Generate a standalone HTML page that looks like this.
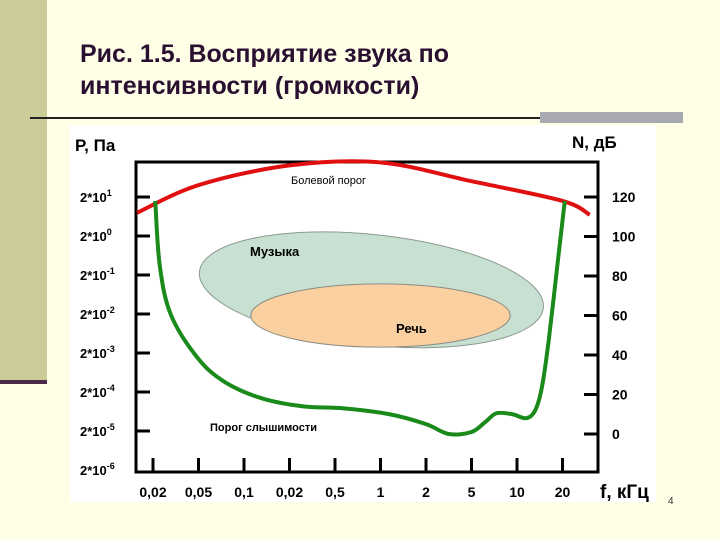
<!DOCTYPE html>
<html><head><meta charset="utf-8"><style>
body{margin:0;width:720px;height:540px;background:#FFFFE8;position:relative;overflow:hidden;font-family:"Liberation Sans","Noto Sans CJK SC",sans-serif}
.strip{position:absolute;left:0;top:0;width:47px;height:382px;background:#CCCC99}
.stripline{position:absolute;left:0;top:380px;width:47px;height:4px;background:#4a2a4a}
.hline{position:absolute;left:30px;top:117px;width:515px;height:2px;background:#222}
.grey{position:absolute;left:540px;top:112px;width:143px;height:11px;background:#A8A8B0}
h1{position:absolute;left:80px;top:38px;margin:0;font-size:25px;font-weight:bold;color:#2a1030;line-height:32px}
.page{position:absolute;left:668px;top:496px;font-size:10px;color:#333}
</style></head><body>
<div class="strip"></div>
<div class="stripline"></div>
<div class="hline"></div>
<div class="grey"></div>
<h1>Рис. 1.5. Восприятие звука по<br>интенсивности (громкости)</h1>
<svg id="c" width="720" height="540" style="position:absolute;left:0;top:0"></svg>
<div class="page">4</div>
<script>
const xLabels=["0,02","0,05","0,1","0,02","0,5","1","2","5","10","20"];
const leftLabels=["2*10|1","2*10|0","2*10|-1","2*10|-2","2*10|-3","2*10|-4","2*10|-5","2*10|-6"];
const rightLabels=[120,100,80,60,40,20,0];
const hearIdx=[0.05,0.15,0.4,1,1.6,2.4,3.3,4.2,5.2,6,6.5,7,7.3,7.55,7.9,8.2,8.4,8.55,8.7,8.9,9.05];
const hearDb=[118,85,60,38,26,18,14,13,10,5,0,1,6,10.5,10,8,12,24,48,88,118];
const painIdx=[-0.35,1,3,5,7,9,9.6];
const painDb=[112,126,136,137.5,128,118,111];
const music={idx:4.8,db:73,rIdx:3.8,rDb:28};
const speech={idx:5.0,db:60,rIdx:2.85,rDb:16};
const X=i=>153+45.5*i, Y=d=>434-1.975*d;
const S=document.getElementById('c'),NS="http://www.w3.org/2000/svg";
function mk(t,a,p){const e=document.createElementNS(NS,t);for(const k in a)e.setAttribute(k,a[k]);(p||S).appendChild(e);return e;}
function smooth(xs,ys){const P=xs.map((x,i)=>[X(x),Y(ys[i])]);let d=`M${P[0][0]},${P[0][1]}`;for(let i=0;i<P.length-1;i++){const p0=P[i-1]||P[i],p1=P[i],p2=P[i+1],p3=P[i+2]||p2;d+=` C${p1[0]+(p2[0]-p0[0])/6},${p1[1]+(p2[1]-p0[1])/6} ${p2[0]-(p3[0]-p1[0])/6},${p2[1]-(p3[1]-p1[1])/6} ${p2[0]},${p2[1]}`;}return d;}
let e=mk('rect',{x:70,y:125,width:586,height:377,fill:'#fff'});


e=mk('rect',{x:136,y:162,width:462,height:310,fill:'none',stroke:'#000','stroke-width':3});


e=mk('ellipse',{cx:X(music.idx),cy:Y(music.db),rx:music.rIdx*45.5,ry:music.rDb*1.975,fill:'#C8E0D2',stroke:'#8a9a90','stroke-width':1,transform:`rotate(6 ${X(music.idx)} ${Y(music.db)})`});


e=mk('ellipse',{cx:X(speech.idx),cy:Y(speech.db),rx:speech.rIdx*45.5,ry:speech.rDb*1.975,fill:'#FAD0A0',stroke:'#8a8a80','stroke-width':1});


e=mk('path',{d:smooth(painIdx,painDb),fill:'none',stroke:'#E01010','stroke-width':4});


e=mk('path',{d:smooth(hearIdx,hearDb),fill:'none',stroke:'#1A8A1A','stroke-width':4});


function txt(x,y,s,o){const t=mk('text',Object.assign({x,y,'font-size':14,'font-weight':'bold','font-family':'Liberation Sans, sans-serif'},o||{}));t.textContent=s;return t;}
xLabels.forEach((l,i)=>{
 e=mk('line',{x1:X(i),x2:X(i),y1:458,y2:472,stroke:'#000','stroke-width':3});
 
 
 e=txt(X(i),497,l,{'text-anchor':'middle'});
 
 
});
leftLabels.forEach((l,i)=>{
 const y=197+39*i;
 if(i<7){e=mk('line',{x1:136,x2:150,y1:y,y2:y,stroke:'#000','stroke-width':3});
 
 }
 const [a,b]=l.split('|');
 e=txt(80,y+5,a,{'font-size':13});
 
 
 const s=mk('tspan',{dy:-6,'font-size':9},e);s.textContent=b;
});
rightLabels.forEach(v=>{
 const y=Y(v);
 e=mk('line',{x1:584,x2:598,y1:y,y2:y,stroke:'#000','stroke-width':3});
 
 
 e=txt(612,y+5,String(v));
 
 
});
e=txt(75,151,'P, Па',{'font-size':17});


e=txt(572,148,'N, дБ',{'font-size':17});


e=txt(600,498,'f, кГц',{'font-size':19});


e=txt(291,184,'Болевой порог',{'font-size':11,'font-weight':'normal'});


e=txt(250,256,'Музыка',{'font-size':13});


e=txt(396,333,'Речь',{'font-size':13});


e=txt(210,431,'Порог слышимости',{'font-size':11});


</script>
</body></html>
